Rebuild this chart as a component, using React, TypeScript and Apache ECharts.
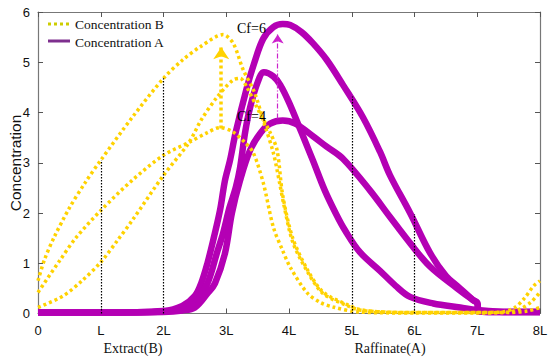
import React, { useEffect, useRef } from "react";
import * as echarts from "echarts";

const xTickLabels = ["0", "L", "2L", "3L", "4L", "5L", "6L", "7L", "8L"];

// Concentration B (yellow, dotted)
const concB_top = [[0,0.65],[0.1,1.06],[0.25,1.5],[0.5,2.1],[0.75,2.6],[1,3.05],[1.5,3.9],[2,4.68],[2.3,5.04],[2.6,5.32],[2.95,5.55],[3.11,5.38],[3.27,4.85],[3.45,4.4],[3.6,3.8],[3.75,3.2],[3.85,2.6],[3.92,2.15],[4.06,1.42],[4.29,0.84],[4.54,0.4],[4.92,0.16],[5.13,0.07],[5.5,0.03],[6,0.02],[7,0.02],[7.4,0.03],[7.6,0.12],[7.75,0.3],[7.9,0.55],[8,0.65]];
const concB_low = [[0,0.42],[0.35,1.06],[0.6,1.5],[1,2.05],[1.5,2.65],[2,3.15],[2.4,3.4],[2.7,3.6],[2.9,3.7],[3.1,3.62],[3.3,3.4],[3.43,3.2],[3.59,2.6],[3.75,1.72],[3.9,1.25],[4.02,0.92],[4.29,0.41],[4.5,0.22],[4.7,0.13],[5.1,0.03],[6,0.01],[7,0.01],[7.5,0.03],[7.7,0.1],[7.85,0.22],[8,0.42]];
const concB_mid = [[0,0.12],[0.4,0.35],[0.7,0.65],[1,1.02],[1.27,1.46],[1.5,1.85],[2,2.75],[2.4,3.39],[2.6,3.85],[2.85,4.3],[3.1,4.64],[3.22,4.68],[3.33,4.5],[3.51,4.05],[3.7,3.6],[3.81,3.25],[3.9,2.35],[4.06,1.5],[4.29,0.88],[4.54,0.43],[4.92,0.18],[5.13,0.08],[5.5,0.03],[6,0.02],[7.5,0.02],[7.8,0.05],[8,0.12]];

// Concentration A (purple)
const concA_cf6 = [[0,0.02],[1,0.02],[2,0.05],[2.3,0.15],[2.5,0.35],[2.6,0.6],[2.7,1.0],[2.8,1.5],[2.9,2.05],[2.98,2.65],[3.06,3.05],[3.15,3.6],[3.33,4.5],[3.45,5.0],[3.59,5.47],[3.75,5.7],[3.9,5.76],[4.02,5.74],[4.2,5.6],[4.38,5.38],[4.6,5.05],[4.86,4.55],[5.18,3.9],[5.45,3.22],[5.61,2.75],[5.93,2.0],[6.25,1.2],[6.5,0.75],[6.68,0.55],[6.93,0.27],[7.0,0.2],[7.02,0.04],[7.5,0.03],[8,0.03]];
const concA_mid = [[0,0.02],[1,0.02],[2,0.04],[2.3,0.1],[2.5,0.2],[2.7,0.6],[2.85,1.2],[2.95,1.6],[3.05,2.1],[3.15,2.5],[3.22,2.9],[3.3,3.6],[3.38,4.1],[3.5,4.6],[3.6,4.8],[3.75,4.72],[3.86,4.55],[4.0,4.2],[4.2,3.6],[4.38,3.05],[4.57,2.45],[4.75,1.98],[4.89,1.66],[5.13,1.22],[5.45,0.85],[5.7,0.55],[5.93,0.33],[6.3,0.2],[6.73,0.12],[7.0,0.07],[7.5,0.03],[8,0.03]];
const concA_cf4 = [[0,0.02],[1,0.02],[2,0.03],[2.3,0.06],[2.5,0.12],[2.7,0.4],[2.82,0.6],[2.98,1.2],[3.09,2.0],[3.22,2.65],[3.38,3.25],[3.55,3.6],[3.7,3.78],[3.9,3.84],[4.1,3.78],[4.38,3.53],[4.6,3.32],[4.86,3.08],[5.29,2.45],[5.61,1.92],[5.93,1.4],[6.25,0.93],[6.68,0.5],[6.93,0.27],[7.0,0.22],[7.02,0.04],[7.5,0.03],[8,0.03]];

// Vertical dotted guide lines: [x, top]
const guideLines = [[1, 3.05], [2, 4.68], [5, 4.32], [6, 1.98]];
// Arrows: [x, from, to]
const yellowArrow = [2.92, 3.68, 5.3];
const purpleArrow = [3.82, 3.88, 5.55];
// Annotations
const cfLabels = [[3.41, 5.66, "Cf=6"], [3.41, 3.92, "Cf=4"]];
const legendNames = ["Concentration B", "Concentration A"];
const yAxisTitle = "Concentration";

const YELLOW = "#FFD200";
const PURPLE = "#B400B4";
const SERIF = "'Liberation Serif', 'Times New Roman', serif";
const SANS = "'Liberation Sans', Arial, sans-serif";

export default function App() {
  const ref = useRef<HTMLDivElement>(null);
  useEffect(() => {
    document.body.style.margin = "0";
    document.body.style.overflow = "hidden";
    const chart = echarts.init(ref.current!, null, { renderer: "svg" });
    const yellowSeries = (data: number[][], extra: any = {}) => ({
      type: "line",
      name: legendNames[0],
      data,
      symbol: "none",
      smooth: 0.3,
      z: 4,
      lineStyle: { color: YELLOW, width: 3.5, type: [3, 3] },
      itemStyle: { color: YELLOW },
      ...extra,
    });
    const purpleSeries = (data: number[][]) => ({
      type: "line",
      name: legendNames[1],
      data,
      symbol: "none",
      smooth: 0.35,
      z: 3,
      lineStyle: { color: PURPLE, width: 6.5 },
      itemStyle: { color: PURPLE },
    });
    const markLineData: any[] = guideLines.map(([x, top]) => [
      { coord: [x, 0], symbol: "none", lineStyle: { color: "#000", width: 1.2, type: [1.5, 1.5] } },
      { coord: [x, top], symbol: "none" },
    ]);
    markLineData.push([
      { coord: [yellowArrow[0], yellowArrow[1]], symbol: "none", lineStyle: { color: YELLOW, width: 3.5, type: [3, 3] } },
      { coord: [yellowArrow[0], yellowArrow[2]], symbol: "arrow", symbolSize: 12 },
    ]);
    markLineData.push([
      { coord: [purpleArrow[0], purpleArrow[1]], symbol: "none", lineStyle: { color: "#CC22CC", width: 1.2, type: [5, 2, 1, 2] } },
      { coord: [purpleArrow[0], purpleArrow[2]], symbol: "arrow", symbolSize: 9 },
    ]);

    chart.setOption({
      animation: false,
      backgroundColor: "#fff",
      grid: { left: 38, right: 10, top: 12, bottom: 43.5, containLabel: false, outerBoundsMode: "none" },
      xAxis: [
        {
          type: "value", min: 0, max: 8, interval: 1,
          axisLine: { onZero: false, lineStyle: { color: "#777", width: 1.2 } },
          axisTick: { inside: true, length: 5, lineStyle: { color: "#555" } },
          splitLine: { show: false },
          axisLabel: { formatter: (v: number) => xTickLabels[Math.round(v)], fontFamily: SANS, fontSize: 13, color: "#111", margin: 10 },
        },
        {
          type: "value", position: "top", min: 0, max: 8, interval: 1,
          axisLine: { onZero: false, lineStyle: { color: "#777", width: 1.2 } },
          axisTick: { inside: true, length: 5, lineStyle: { color: "#555" } },
          axisLabel: { show: false }, splitLine: { show: false },
        },
      ],
      yAxis: [
        {
          type: "value", min: 0, max: 6, interval: 1,
          axisLine: { show: true, onZero: false, lineStyle: { color: "#777", width: 1.2 } },
          axisTick: { show: true, inside: true, length: 5, lineStyle: { color: "#555" } },
          splitLine: { show: false },
          axisLabel: { fontFamily: SANS, fontSize: 13, color: "#111", margin: 8 },
        },
        {
          type: "value", position: "right", min: 0, max: 6, interval: 1,
          axisLine: { show: true, onZero: false, lineStyle: { color: "#777", width: 1.2 } },
          axisTick: { show: true, inside: true, length: 5, lineStyle: { color: "#555" } },
          axisLabel: { show: false }, splitLine: { show: false },
        },
      ],
      series: [
        purpleSeries(concA_cf6),
        purpleSeries(concA_mid),
        purpleSeries(concA_cf4),
        yellowSeries(concB_top, {
          markLine: { silent: true, symbol: "none", label: { show: false }, data: markLineData },
        }),
        yellowSeries(concB_low),
        yellowSeries(concB_mid),
        {
          type: "scatter",
          name: "labels",
          data: cfLabels.map((d) => ({ value: [d[0], d[1]], name: d[2] })),
          symbolSize: 1,
          itemStyle: { color: "#fff", opacity: 0 },
          z: 6,
          label: {
            show: true, position: [0, 0], align: "center", verticalAlign: "middle",
            formatter: (p: any) => p.name, fontFamily: SERIF, fontSize: 14, color: "#000",
            opacity: 1, textBorderWidth: 0,
          },
        },
      ],
      graphic: [
        { type: "text", x: 15, y: 163, rotation: Math.PI / 2, style: { text: yAxisTitle, font: `15.5px ${SANS}`, fill: "#111", align: "center", verticalAlign: "middle" } },
        { type: "line", shape: { x1: 48, y1: 24, x2: 69, y2: 24 }, style: { stroke: "#CDCD00", lineWidth: 3, lineDash: [3, 3] } },
        { type: "text", x: 75, y: 24, style: { text: legendNames[0], font: `13.5px ${SERIF}`, fill: "#111", verticalAlign: "middle" } },
        { type: "line", shape: { x1: 48, y1: 41, x2: 70, y2: 41 }, style: { stroke: "#7E2F8E", lineWidth: 3 } },
        { type: "text", x: 75, y: 42, style: { text: legendNames[1], font: `13.5px ${SERIF}`, fill: "#111", verticalAlign: "middle" } },
        { type: "text", x: 133, y: 348, style: { text: "Extract(B)", font: `14px ${SERIF}`, fill: "#111", align: "center", verticalAlign: "middle" } },
        { type: "text", x: 390, y: 348, style: { text: "Raffinate(A)", font: `14px ${SERIF}`, fill: "#111", align: "center", verticalAlign: "middle" } },
      ],
    });
    return () => chart.dispose();
  }, []);
  return <div ref={ref} style={{ position: "fixed", left: 0, top: 0, width: 550, height: 357 }} />;
}
